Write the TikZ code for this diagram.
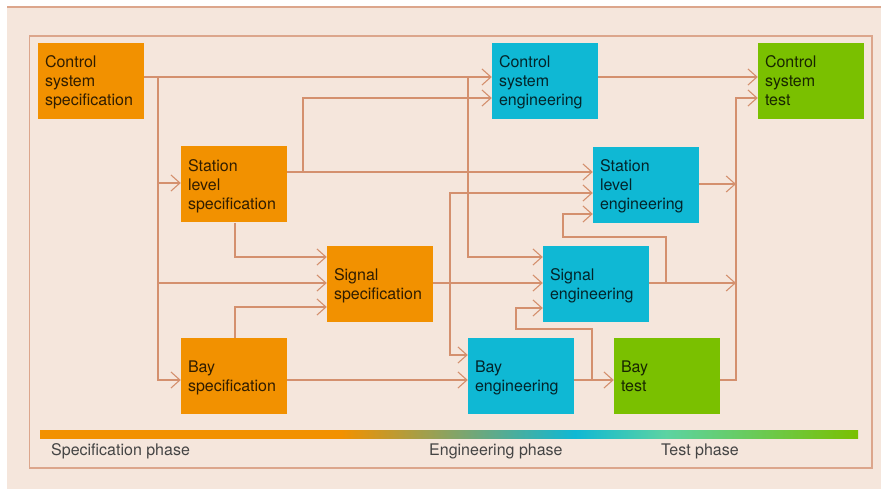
\documentclass[tikz,border=0pt]{standalone}
\usepackage{fontspec}
\setmainfont{TeX Gyre Heros}
\usetikzlibrary{arrows.meta}
\definecolor{beigec}{HTML}{F5E6DC}
\definecolor{framec}{HTML}{DCA68C}
\definecolor{linec}{HTML}{D4906E}
\definecolor{orc}{HTML}{F29100}
\definecolor{cyc}{HTML}{0FB8D4}
\definecolor{grc}{HTML}{7AC000}
\definecolor{mintc}{HTML}{5CD3A2}
\definecolor{labc}{HTML}{444444}
\pgfdeclarehorizontalshading{phasebar}{100bp}{color(0bp)=(orc); color(25bp)=(orc); color(43.4bp)=(orc); color(57.7bp)=(cyc); color(63.25bp)=(mintc); color(75bp)=(grc); color(100bp)=(grc)}
\newcommand\bxfont{\fontsize{16}{19}\selectfont}
\begin{document}
\begin{tikzpicture}[x=1pt,y=-1pt,
  box/.style={minimum width=106pt, minimum height=76pt, inner xsep=7pt, inner ysep=0pt,
    text width=92pt, align=left, font=\bxfont, text=black, text opacity=0.8,
    execute at begin node={\rule{0pt}{17.3pt}}, execute at end node=\strut},
  sbox/.style={box, fill=orc},
  ebox/.style={box, fill=cyc},
  tbox/.style={box, fill=grc},
  conn/.style={draw=linec, line width=1.1pt},
  arr/.style={conn, -{Straight Barb[length=9pt,width=16pt]}},
  lab/.style={anchor=west, font=\bxfont, text=labc, inner sep=0pt}]
\useasboundingbox (0,0) rectangle (881,489);
\fill[white] (0,0) rectangle (881,489);
\fill[beigec] (7,7) rectangle (881,489);
\draw[framec, line width=1.3pt] (7,7) -- (881,7);
\draw[framec, line width=1.3pt] (29.5,36) rectangle (872,468);

% boxes
\node[sbox] (css) at (91,81) {Control\\system\\specification};
\node[sbox] (sls) at (234,184.5) {Station\\level\\specification};
\node[sbox] (sigs) at (380,284) {Signal\\specification};
\node[sbox] (bays) at (234,376) {Bay\\specification};
\node[ebox] (cse) at (545,81) {Control\\system\\engineering};
\node[ebox] (sle) at (646,185) {Station\\level\\engineering};
\node[ebox] (sige) at (596,284) {Signal\\engineering};
\node[ebox] (baye) at (521,376) {Bay\\engineering};
\node[tbox] (bayt) at (667,376) {Bay\\test};
\node[tbox] (cst) at (811,81) {Control\\system\\test};

% connectors from control system specification
\draw[arr] (css.east |- 0,77) -- (cse.west |- 0,77);
\draw[arr] (css.east |- 0,77) -| (158,380) -- (bays.west |- 0,380);
\draw[arr] (158,183) -- (sls.west |- 0,183);
\draw[arr] (158,283) -- (sigs.west |- 0,283);
\draw[arr] (css.east |- 0,77) -| (468,257) -- (sige.west |- 0,257);

% from station level specification
\draw[arr] (sls.east |- 0,172) -- (sle.west |- 0,172);
\draw[arr] (sls.east |- 0,172) -| (303,98) -- (cse.west |- 0,98);
\draw[arr] (sls.south -| 235,0) |- (sigs.west |- 0,257);

% from bay specification
\draw[arr] (bays.north -| 235,0) |- (sigs.west |- 0,307);
\draw[arr] (bays.east |- 0,380) -- (baye.west |- 0,380);

% from signal specification
\draw[arr] (sigs.east |- 0,283) -- (sige.west |- 0,283);
\draw[arr] (sigs.east |- 0,283) -| (450,193) -- (sle.west |- 0,193);
\draw[arr] (sigs.east |- 0,283) -| (450,355) -- (baye.west |- 0,355);

% engineering to test
\draw[arr] (cse.east |- 0,77) -- (cst.west |- 0,77);
\draw[arr] (sle.east |- 0,184) -- (736,184);
\draw[arr] (sige.east |- 0,283) -- (736,283);
\draw[arr] (bayt.east |- 0,380) -| (736,98) -- (cst.west |- 0,98);
\draw[arr] (baye.east |- 0,380) -- (bayt.west |- 0,380);

% feedback loops
\draw[arr] (sige.east |- 0,283) -| (666,237) -| (563,214) -- (sle.west |- 0,214);
\draw[arr] (baye.east |- 0,380) -| (592,329) -| (516,308) -- (sige.west |- 0,308);

% phase bar
\shade[shading=phasebar] (40pt,-430pt) rectangle (858pt,-438pt);

\node[lab] (lspec) at (51,451.5) {Specification phase};
\node[lab] (leng) at (429,451.5) {Engineering phase};
\node[lab] (ltest) at (661,451.5) {Test phase};
\end{tikzpicture}
\end{document}
